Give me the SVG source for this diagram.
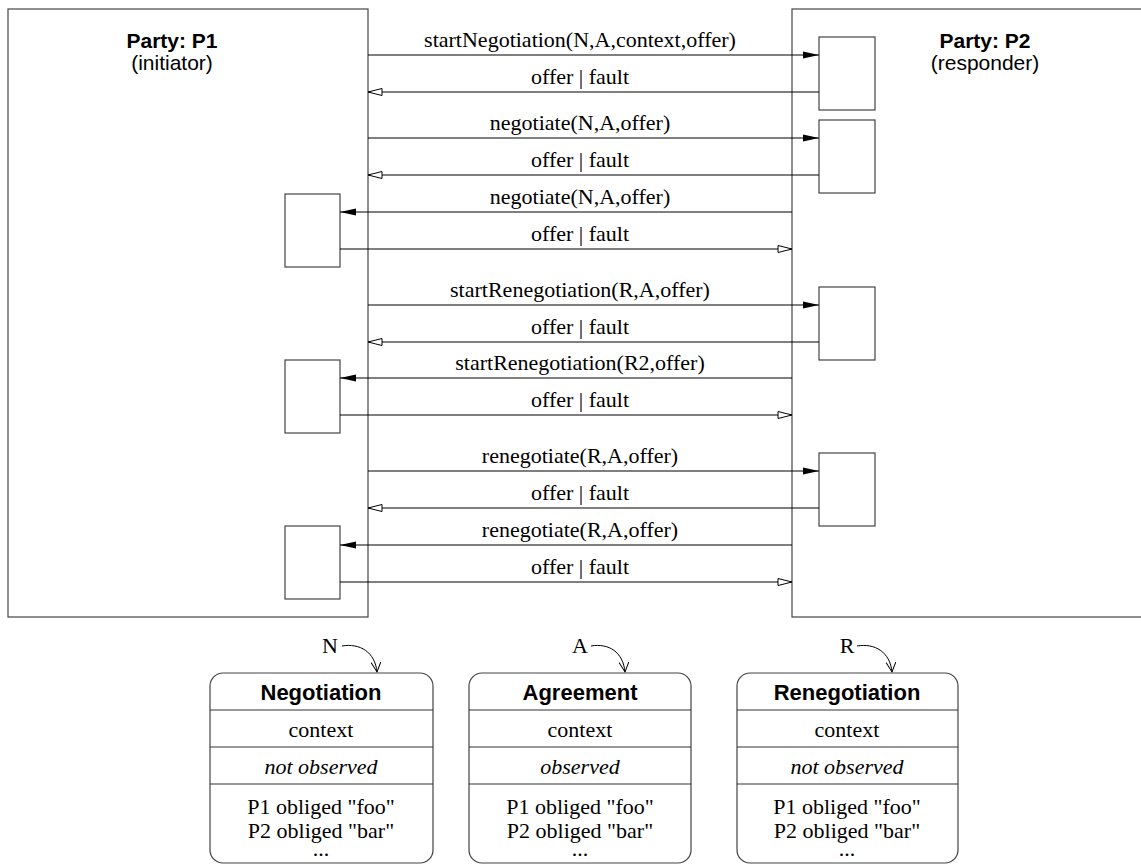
<svg xmlns="http://www.w3.org/2000/svg" width="1141" height="865" viewBox="0 0 1141 865">
<style>
.box{fill:#fff;stroke:#444;stroke-width:1.2}
.act{fill:#fff;stroke:#444;stroke-width:1.2}
.msg{stroke:#000;stroke-width:1.2;fill:none}
.lbl{font-family:"Liberation Serif",serif;font-size:22px;text-anchor:middle;fill:#000}
.party{font-family:"Liberation Sans",Arial,sans-serif;font-size:21px;font-weight:bold;text-anchor:middle;fill:#000}
.role{font-family:"Liberation Sans",Arial,sans-serif;font-size:21px;text-anchor:middle;fill:#000}
.title{font-family:"Liberation Sans",Arial,sans-serif;font-size:22px;font-weight:bold;text-anchor:middle;fill:#000}
.it{font-style:italic}
.div{stroke:#333;stroke-width:1.2}
.curve{stroke:#000;stroke-width:1;fill:none}
</style>
<defs>
<marker id="filled" markerUnits="userSpaceOnUse" markerWidth="18" markerHeight="10" refX="16" refY="4" orient="auto">
<path d="M0,0.5 L16,4 L0,7.5 z" fill="#000"/>
</marker>
<marker id="open" markerUnits="userSpaceOnUse" markerWidth="18" markerHeight="10" refX="15" refY="4" orient="auto">
<path d="M1,0.5 L15,4 L1,7.5 z" fill="#fff" stroke="#000" stroke-width="1"/>
</marker>
<marker id="vee" markerUnits="userSpaceOnUse" markerWidth="12" markerHeight="12" refX="10" refY="5" orient="auto">
<path d="M0,0 L10,5 L0,10" fill="none" stroke="#000" stroke-width="1"/>
</marker>
</defs>

<g id="party-p1">
<rect class="box" x="8" y="9" width="360" height="608"/>
<text class="party" x="172" y="48">Party: P1</text>
<text class="role" x="172" y="70">(initiator)</text>
</g>
<g id="party-p2">
<rect class="box" x="792" y="9" width="360" height="608"/>
<text class="party" x="985" y="48">Party: P2</text>
<text class="role" x="985" y="70">(responder)</text>
</g>

<g id="p2-activations">
<rect class="act" x="819" y="37" width="56" height="73"/>
<rect class="act" x="819" y="120" width="56" height="73"/>
<rect class="act" x="819" y="287" width="56" height="73"/>
<rect class="act" x="819" y="453" width="56" height="73"/>
</g>
<g id="p1-activations">
<rect class="act" x="285" y="194" width="55" height="73"/>
<rect class="act" x="285" y="360" width="55" height="73"/>
<rect class="act" x="285" y="526" width="55" height="73"/>
</g>

<g id="connectors">
<line class="msg" x1="368" y1="55" x2="819" y2="55" marker-end="url(#filled)"/>
<line class="msg" x1="819" y1="92" x2="368" y2="92" marker-end="url(#open)"/>
<line class="msg" x1="368" y1="138" x2="819" y2="138" marker-end="url(#filled)"/>
<line class="msg" x1="819" y1="175" x2="368" y2="175" marker-end="url(#open)"/>
<line class="msg" x1="792" y1="212" x2="340" y2="212" marker-end="url(#filled)"/>
<line class="msg" x1="340" y1="249" x2="792" y2="249" marker-end="url(#open)"/>
<line class="msg" x1="368" y1="305" x2="819" y2="305" marker-end="url(#filled)"/>
<line class="msg" x1="819" y1="342" x2="368" y2="342" marker-end="url(#open)"/>
<line class="msg" x1="792" y1="378" x2="340" y2="378" marker-end="url(#filled)"/>
<line class="msg" x1="340" y1="415" x2="792" y2="415" marker-end="url(#open)"/>
<line class="msg" x1="368" y1="471" x2="819" y2="471" marker-end="url(#filled)"/>
<line class="msg" x1="819" y1="508" x2="368" y2="508" marker-end="url(#open)"/>
<line class="msg" x1="792" y1="545" x2="340" y2="545" marker-end="url(#filled)"/>
<line class="msg" x1="340" y1="582" x2="792" y2="582" marker-end="url(#open)"/>
<path class="curve" d="M342,646 C360,643 375,652 377,672" marker-end="url(#vee)"/>
<path class="curve" d="M591,646 C609,643 623,652 625,672" marker-end="url(#vee)"/>
<path class="curve" d="M857,646 C875,643 890,652 892,672" marker-end="url(#vee)"/>
</g>

<g id="labels">
<text class="lbl" x="580" y="47">startNegotiation(N,A,context,offer)</text>
<text class="lbl" x="580" y="84">offer | fault</text>
<text class="lbl" x="580" y="130">negotiate(N,A,offer)</text>
<text class="lbl" x="580" y="167">offer | fault</text>
<text class="lbl" x="580" y="204">negotiate(N,A,offer)</text>
<text class="lbl" x="580" y="241">offer | fault</text>
<text class="lbl" x="580" y="297">startRenegotiation(R,A,offer)</text>
<text class="lbl" x="580" y="334">offer | fault</text>
<text class="lbl" x="580" y="370">startRenegotiation(R2,offer)</text>
<text class="lbl" x="580" y="407">offer | fault</text>
<text class="lbl" x="580" y="463">renegotiate(R,A,offer)</text>
<text class="lbl" x="580" y="500">offer | fault</text>
<text class="lbl" x="580" y="537">renegotiate(R,A,offer)</text>
<text class="lbl" x="580" y="574">offer | fault</text>
</g>

<g id="negotiation">
<rect class="box" x="210" y="673" width="223" height="190" rx="13"/>
<line class="div" x1="210" y1="710" x2="433" y2="710"/>
<line class="div" x1="210" y1="747" x2="433" y2="747"/>
<line class="div" x1="210" y1="784" x2="433" y2="784"/>
<text class="title" x="321" y="700">Negotiation</text>
<text class="lbl" x="321" y="737">context</text>
<text class="lbl it" x="321" y="774">not observed</text>
<text class="lbl" x="321" y="814">P1 obliged "foo"</text>
<text class="lbl" x="321" y="838">P2 obliged "bar"</text>
<text class="lbl" x="321" y="856">...</text>
<text class="lbl" x="330" y="653">N</text>
</g>

<g id="agreement">
<rect class="box" x="469" y="673" width="222" height="190" rx="13"/>
<line class="div" x1="469" y1="710" x2="691" y2="710"/>
<line class="div" x1="469" y1="747" x2="691" y2="747"/>
<line class="div" x1="469" y1="784" x2="691" y2="784"/>
<text class="title" x="580" y="700">Agreement</text>
<text class="lbl" x="580" y="737">context</text>
<text class="lbl it" x="580" y="774">observed</text>
<text class="lbl" x="580" y="814">P1 obliged "foo"</text>
<text class="lbl" x="580" y="838">P2 obliged "bar"</text>
<text class="lbl" x="580" y="856">...</text>
<text class="lbl" x="580" y="653">A</text>
</g>

<g id="renegotiation">
<rect class="box" x="737" y="673" width="221" height="190" rx="13"/>
<line class="div" x1="737" y1="710" x2="958" y2="710"/>
<line class="div" x1="737" y1="747" x2="958" y2="747"/>
<line class="div" x1="737" y1="784" x2="958" y2="784"/>
<text class="title" x="847" y="700">Renegotiation</text>
<text class="lbl" x="847" y="737">context</text>
<text class="lbl it" x="847" y="774">not observed</text>
<text class="lbl" x="847" y="814">P1 obliged "foo"</text>
<text class="lbl" x="847" y="838">P2 obliged "bar"</text>
<text class="lbl" x="847" y="856">...</text>
<text class="lbl" x="847" y="653">R</text>
</g>
</svg>
